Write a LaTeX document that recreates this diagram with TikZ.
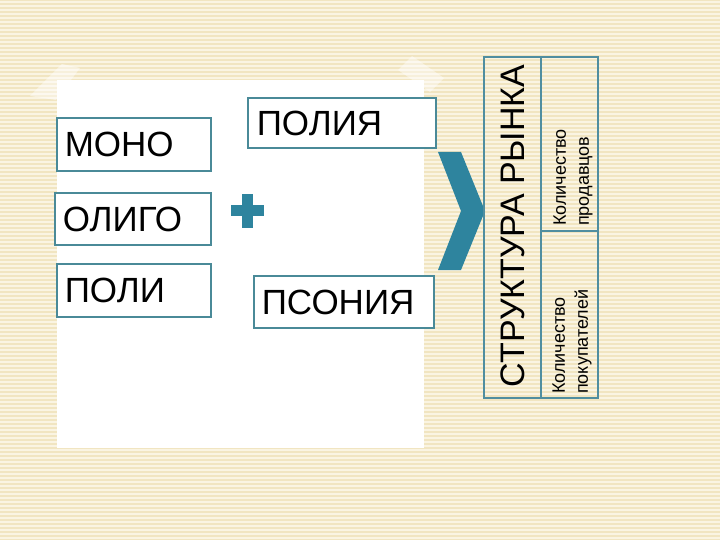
\documentclass[tikz,border=0pt]{standalone}
\usepackage{fontspec}
\setmainfont{Liberation Sans}
\definecolor{bgbeige}{RGB}{241,229,193}
\definecolor{bgline}{RGB}{250,244,226}
\definecolor{boxline}{RGB}{74,138,152}
\definecolor{teal}{RGB}{46,132,158}
\definecolor{tabline}{RGB}{80,142,160}
\tikzset{
  x=1pt, y=-1pt,
  wordbox/.style={draw=boxline, line width=1.6pt, fill=white, anchor=north west,
    inner xsep=8pt, inner ysep=0pt, align=left, font=\fontsize{35}{40}\selectfont,
    text height=25pt, text depth=0pt},
  bigtext/.style={rotate=90, inner sep=0pt, font=\fontsize{34}{40}\selectfont},
  smalltext/.style={rotate=90, anchor=west, inner sep=0pt, align=left,
    font=\fontsize{18}{23}\selectfont},
  tabframe/.style={draw=tabline, line width=1.6pt}
}
\begin{document}
\begin{tikzpicture}
\useasboundingbox (0,0) rectangle (720,540);
% background
\fill[bgbeige] (0,0) rectangle (720,540);
\foreach \yy in {1,5,...,540} {
  \fill[bgline] (0,\yy) rectangle (720,\yy+1.6);
}
% faint decorations
\fill[white, opacity=0.45] (30,96) -- (62,64) -- (80,68) -- (56,100) -- cycle;
\fill[white, opacity=0.45] (398,70) -- (412,56) -- (444,78) -- (430,92) -- cycle;
% white panel
\fill[white] (57,80) rectangle (424,448);
% word boxes
\node[wordbox, minimum width=154pt, minimum height=53pt, text width=138pt] (mono) at (56,117) {МОНО};
\node[wordbox, minimum width=156pt, minimum height=52pt, text width=140pt] (oligo) at (54,192) {ОЛИГО};
\node[wordbox, minimum width=154pt, minimum height=53pt, text width=138pt] (poli) at (56,263) {ПОЛИ};
\node[wordbox, minimum width=186pt, minimum height=50pt, text width=170pt, inner xsep=9pt] (poliya) at (247,97) {ПОЛИЯ};
\node[wordbox, minimum width=180pt, minimum height=52pt, text width=164pt] (psoniya) at (253,275) {ПСОНИЯ};
% plus sign
\fill[teal] (242,194) rectangle (253,228);
\fill[teal] (231,205.5) rectangle (264,216.5);
% chevron
\fill[teal] (438,152) -- (461,152) -- (485,211) -- (461,270) -- (438,270) -- (461,211) -- cycle;
% table
\draw[tabframe] (484,57) rectangle (598,398);
\draw[tabframe] (541,57) -- (541,398);
\draw[tabframe] (541,231) -- (598,231);
\node[bigtext] (title) at (513,226) {СТРУКТУРА РЫНКА};
\node[smalltext] (sellers) at (573,226) {Количество\\продавцов};
\node[smalltext] (buyers) at (572,394) {Количество\\покупателей};
\end{tikzpicture}
\end{document}
